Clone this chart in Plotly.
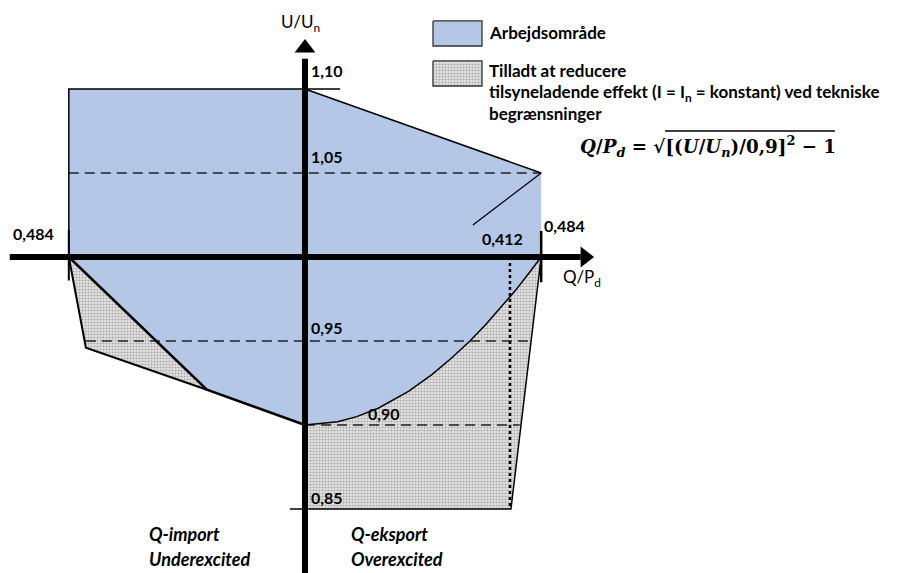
import plotly.graph_objects as go

# --- data (Q/Pd on x, U/Un on y) ---
# voltage-dependent limit curve (lower right edge of the working area)
curve_u = [0.900, 0.902, 0.905, 0.910, 0.920, 0.930, 0.940, 0.950, 0.960, 0.970, 0.980, 0.990, 1.000]
curve_q = [0.000, 0.067, 0.106, 0.150, 0.212, 0.260, 0.301, 0.338, 0.371, 0.402, 0.431, 0.458, 0.484]

# working area: top edge and lower-left edge
work_top_q = [-0.484, 0.000, 0.484, 0.484]
work_top_u = [1.100, 1.100, 1.050, 1.000]
work_low_q = [0.000, -0.201, -0.484]
work_low_u = [0.900, 0.921, 1.000]

# hatched regions
hatch_left_q = [-0.484, -0.449, -0.201]
hatch_left_u = [1.000, 0.946, 0.921]
hatch_right_q = [0.484, 0.422, 0.000, 0.000]
hatch_right_u = [1.000, 0.850, 0.850, 0.900]

# reference levels
dash_levels = [1.05, 0.95, 0.90]
dash_from = [-0.484, -0.449, 0.000]
dash_to = [0.484, 0.460, 0.440]
q_dotted = 0.420

u_ticks = ['1,10', '1,05', '0,95', '0,90', '0,85']
u_tick_pos = [(0.045, 1.111), (0.045, 1.060), (0.045, 0.958), (0.162, 0.907), (0.045, 0.857)]
q_ticks = ['0,484', '0,412', '0,484']
q_tick_pos = [(-0.557, 1.014), (0.404, 1.011), (0.531, 1.019)]

BLUE = '#b4c7e7'
FONT = 'Lato'
HATCH = dict(shape='.', bgcolor='#e4e4e4', fgcolor='#6e6e6e', size=3, solidity=0.4)

X_RANGE = [-0.625, 1.2234]
Y_RANGE = [0.81190, 1.15298]


def line(fig, xs, ys, width=1.5, dash=None, color='black'):
    fig.add_trace(go.Scatter(x=xs, y=ys, mode='lines', hoverinfo='skip',
                             line=dict(color=color, width=width, dash=dash)))


fig = go.Figure()

# blue working area
blue_q = work_top_q + curve_q[::-1] + work_low_q[1:] + [work_top_q[0]]
blue_u = work_top_u + curve_u[::-1] + work_low_u[1:] + [work_top_u[0]]
fig.add_trace(go.Scatter(x=blue_q, y=blue_u, fill='toself', fillcolor=BLUE, mode='none', hoverinfo='skip'))

# hatched areas
fig.add_trace(go.Scatter(x=hatch_left_q + hatch_left_q[:1], y=hatch_left_u + hatch_left_u[:1],
                         fill='toself', fillcolor='rgba(0,0,0,0)', fillpattern=HATCH, mode='none',
                         hoverinfo='skip'))
fig.add_trace(go.Scatter(x=hatch_right_q + curve_q, y=hatch_right_u + curve_u,
                         fill='toself', fillcolor='rgba(0,0,0,0)', fillpattern=HATCH, mode='none',
                         hoverinfo='skip'))

# dashed reference levels
for lvl, a, b in zip(dash_levels, dash_from, dash_to):
    line(fig, [a, b], [lvl, lvl], width=1.4, dash='10px,6px', color='#222')
line(fig, [q_dotted, q_dotted], [1.0, 0.85], width=2.5, dash='dot')

# outlines
line(fig, [work_low_q[-1], work_top_q[0], 0.072], [work_low_u[-1], 1.10, 1.10], width=1.5)
line(fig, work_top_q[1:3], work_top_u[1:3], width=1.5)
line(fig, [0.484, 0.344], [1.050, 1.019], width=1.3)
line(fig, work_low_q, work_low_u, width=2.5)
line(fig, curve_q, curve_u, width=1.5)
line(fig, hatch_left_q, hatch_left_u, width=2)
line(fig, [hatch_right_q[0], hatch_right_q[1], -0.031], [hatch_right_u[0], 0.85, 0.85], width=1.5)

# limit ticks at +-0.484
line(fig, [-0.484, -0.484], [1.016, 0.986], width=2)
line(fig, [0.484, 0.484], [1.0155, 0.985], width=2.5)

# axes with arrow heads
line(fig, [-0.605, 0.565], [1.0, 1.0], width=6)
line(fig, [0.0, 0.0], [Y_RANGE[0], 1.118], width=6)
fig.add_trace(go.Scatter(x=[0.574], y=[1.0], mode='markers', hoverinfo='skip',
                         marker=dict(symbol='triangle-right', size=18, color='black')))
fig.add_trace(go.Scatter(x=[0.0], y=[1.1244], mode='markers', hoverinfo='skip',
                         marker=dict(symbol='triangle-up', size=18, color='black')))

# legend swatches
fig.add_trace(go.Scatter(x=[0.2623, 0.3627, 0.3627, 0.2623, 0.2623],
                         y=[1.1405, 1.1405, 1.1256, 1.1256, 1.1405],
                         fill='toself', fillcolor=BLUE, mode='lines', line=dict(color='#333', width=1.3),
                         hoverinfo='skip'))
fig.add_trace(go.Scatter(x=[0.2623, 0.3627, 0.3627, 0.2623, 0.2623],
                         y=[1.1167, 1.1167, 1.1018, 1.1018, 1.1167],
                         fill='toself', fillcolor='rgba(0,0,0,0)', fillpattern=HATCH, mode='lines',
                         line=dict(color='#333', width=1.3), hoverinfo='skip'))

annotations = []


def txt(x, y, s, size=16, xanchor='center', family=FONT):
    annotations.append(dict(x=x, y=y, xref='x', yref='y', text=s, showarrow=False,
                            xanchor=xanchor, yanchor='middle',
                            font=dict(family=family, size=size, color='black')))


for lab, (qx, uy) in zip(u_ticks, u_tick_pos):
    txt(qx, uy, f'<b>{lab}</b>')
for lab, (qx, uy) in zip(q_ticks, q_tick_pos):
    txt(qx, uy, f'<b>{lab}</b>')

txt(-0.010, 1.139, 'U/U<sub>n</sub>', size=17)
txt(0.568, 0.9875, 'Q/P<sub>d</sub>', size=17)

txt(-0.324, 0.835, '<b><i>Q-import</i></b>', size=18, xanchor='left')
txt(-0.324, 0.8205, '<b><i>Underexcited</i></b>', size=18, xanchor='left')
txt(0.090, 0.835, '<b><i>Q-eksport</i></b>', size=18, xanchor='left')
txt(0.090, 0.8205, '<b><i>Overexcited</i></b>', size=18, xanchor='left')

txt(0.373, 1.1339, '<b>Arbejdsområde</b>', size=17, xanchor='left')
txt(0.373, 1.1113, '<b>Tilladt at reducere</b>', size=17, xanchor='left')
txt(0.373, 1.0976, '<b>tilsyneladende effekt (I = I<sub>n</sub> = konstant) ved tekniske</b>',
    size=17, xanchor='left')
txt(0.373, 1.0857, '<b>begrænsninger</b>', size=17, xanchor='left')
txt(0.559, 1.0655, '<b><i>Q</i>/<i>P<sub>d</sub></i> = √[(<i>U</i>/<i>U<sub>n</sub></i>)/0,9]<sup>2</sup> − 1</b>',
    size=18.3, xanchor='left', family='DejaVu Serif')

fig.update_layout(
    width=902, height=573, margin=dict(l=0, r=0, t=0, b=0),
    paper_bgcolor='white', plot_bgcolor='white', showlegend=False,
    annotations=annotations,
    xaxis=dict(range=X_RANGE, visible=False, fixedrange=True),
    yaxis=dict(range=Y_RANGE, visible=False, fixedrange=True),
)
# overline of the square root
fig.add_shape(type='line', xref='x', yref='y', x0=0.738, x1=1.086, y0=1.0750, y1=1.0750,
              line=dict(color='black', width=1.3))

fig.write_html('out.html', config={'displayModeBar': False},
               post_script="document.body.style.margin='0';document.body.style.overflow='hidden';")
